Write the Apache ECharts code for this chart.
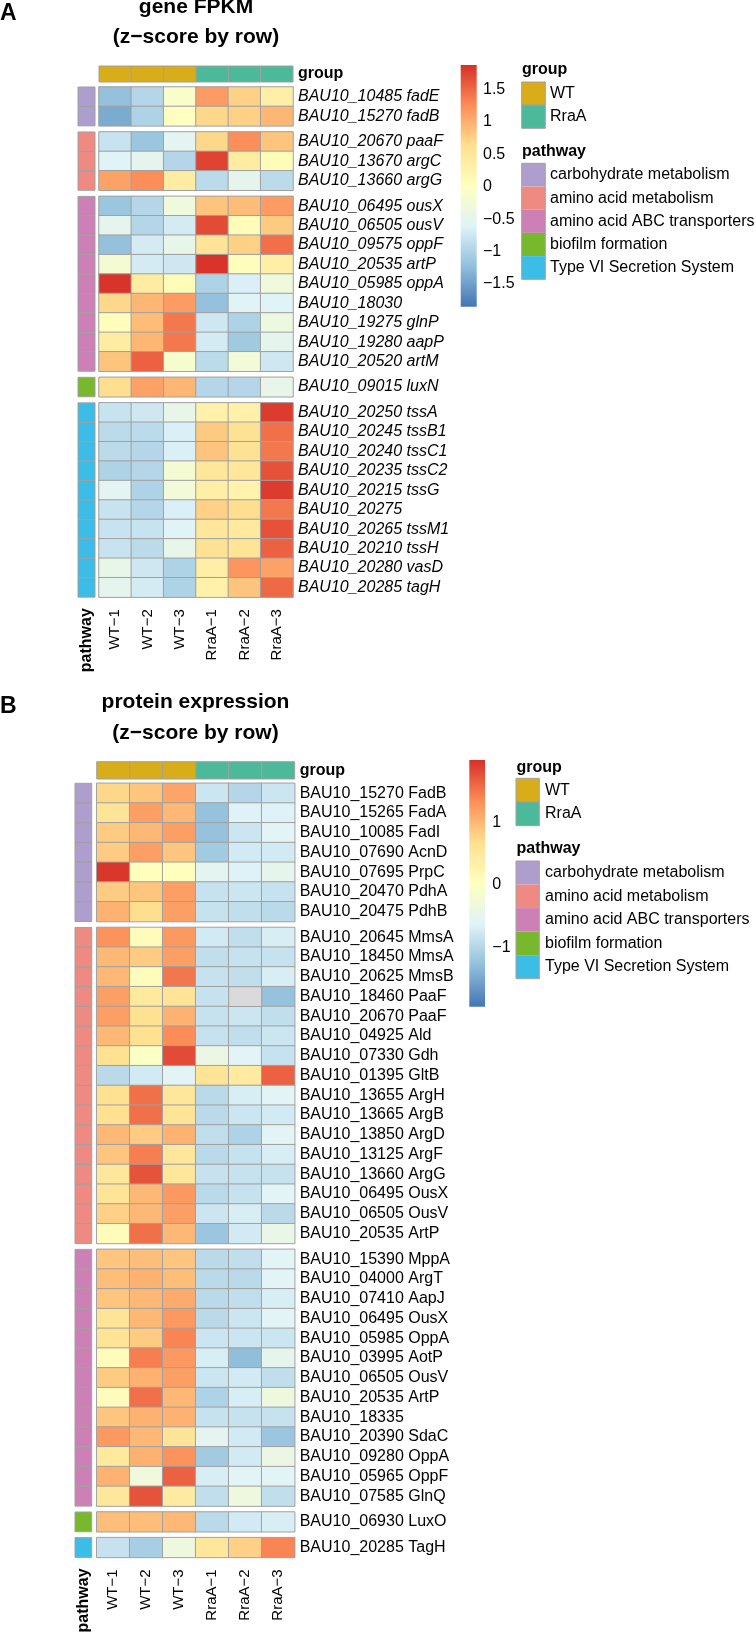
<!DOCTYPE html>
<html><head><meta charset="utf-8">
<script src="https://cdn.jsdelivr.net/npm/echarts@6/dist/echarts.min.js"></script>
<style>html,body{margin:0;padding:0;background:#fff}#c{width:756px;height:1634px}</style>
</head><body><div id="c"></div>
<script>
// ---------------- data ----------------
const columns = ['WT\u22121','WT\u22122','WT\u22123','RraA\u22121','RraA\u22122','RraA\u22123'];
const sampleGroup = ['WT','WT','WT','RraA','RraA','RraA'];
const groupLevels = ['WT','RraA'];
const pathwayLevels = ['carbohydrate metabolism','amino acid metabolism','amino acid ABC transporters','biofilm formation','Type VI Secretion System'];
const colorTicksA = [-1.5,-1,-0.5,0,0.5,1,1.5];
const colorRangeA = [-1.85, 1.88];
const colorTicksB = [-1,0,1];
const colorRangeB = [-1.95, 2.0];

// Panel A: gene FPKM (z-score by row)
const genesA1 = ['BAU10_10485 fadE','BAU10_15270 fadB'];
const zA1 = [[-1.2,-0.95,-0.1,1.15,0.75,0.35],[-1.4,-1.0,0.0,0.7,0.75,0.95]];
const genesA2 = ['BAU10_20670 paaF','BAU10_13670 argC','BAU10_13660 argG'];
const zA2 = [[-0.8,-1.15,-0.55,0.7,1.25,0.85],[-0.6,-0.5,-0.95,1.75,0.4,0.1],[1.1,1.25,0.4,-0.9,-0.5,-0.9]];
const genesA3 = ['BAU10_06495 ousX','BAU10_06505 ousV','BAU10_09575 oppF','BAU10_20535 artP','BAU10_05985 oppA','BAU10_18030','BAU10_19275 glnP','BAU10_19280 aapP','BAU10_20520 artM'];
const zA3 = [[-1.15,-0.95,-0.3,0.85,0.9,1.15],[-0.5,-0.95,-0.7,1.7,0.1,0.8],[-1.2,-0.7,-0.45,0.55,0.75,1.45],
  [-0.2,-0.7,-0.75,1.85,0.05,0.35],[1.85,0.4,0.1,-1.0,-0.65,-0.3],[0.7,0.95,1.15,-1.2,-0.6,-0.6],
  [0.05,0.9,1.4,-0.75,-1.0,-0.35],[0.4,0.95,1.4,-0.7,-1.1,-0.5],[0.85,1.55,-0.15,-0.9,-0.25,-0.75]];
const genesA4 = ['BAU10_09015 luxN'];
const zA4 = [[0.65,1.1,0.95,-0.95,-0.95,-0.45]];
const genesA5 = ['BAU10_20250 tssA','BAU10_20245 tssB1','BAU10_20240 tssC1','BAU10_20235 tssC2','BAU10_20215 tssG','BAU10_20275','BAU10_20265 tssM1','BAU10_20210 tssH','BAU10_20280 vasD','BAU10_20285 tagH'];
const zA5 = [[-0.8,-0.75,-0.45,0.3,0.3,1.8],[-0.9,-0.9,-0.65,0.8,0.6,1.45],[-0.9,-0.95,-0.65,0.85,0.6,1.4],
  [-1.0,-0.95,-0.2,0.5,0.5,1.65],[-0.55,-1.0,-0.25,0.35,0.25,1.8],[-0.8,-0.95,-0.65,0.75,0.65,1.4],
  [-0.8,-0.8,-0.6,0.5,0.45,1.65],[-0.8,-0.9,-0.45,0.6,0.55,1.55],[-0.45,-0.75,-1.0,0.35,1.2,1.1],
  [-0.5,-0.7,-1.0,0.3,0.85,1.5]];

// Panel B: protein expression (z-score by row)
const genesB1 = ['BAU10_15270 FadB','BAU10_15265 FadA','BAU10_10085 FadI','BAU10_07690 AcnD','BAU10_07695 PrpC','BAU10_20470 PdhA','BAU10_20475 PdhB'];
const zB1 = [[0.75,0.9,1.15,-0.8,-1.0,-0.8],[0.6,1.2,1.0,-1.25,-0.65,-0.65],[0.85,1.0,1.2,-1.25,-0.8,-0.6],
  [0.85,1.2,0.9,-1.15,-0.75,-0.75],[1.95,0.05,0.05,-0.55,-0.65,-0.5],[0.85,0.9,1.2,-0.85,-0.8,-0.85],
  [1.05,0.7,1.2,-0.85,-0.9,-0.95]];
const genesB2 = ['BAU10_20645 MmsA','BAU10_18450 MmsA','BAU10_20625 MmsB','BAU10_18460 PaaF','BAU10_20670 PaaF','BAU10_04925 Ald','BAU10_07330 Gdh','BAU10_01395 GltB','BAU10_13655 ArgH','BAU10_13665 ArgB','BAU10_13850 ArgD','BAU10_13125 ArgF','BAU10_13660 ArgG','BAU10_06495 OusX','BAU10_06505 OusV','BAU10_20535 ArtP'];
const zB2 = [[1.3,0.1,1.25,-0.75,-0.9,-0.7],[1.0,0.85,1.2,-0.9,-0.85,-0.85],[1.0,0.1,1.5,-0.85,-0.9,-0.7],
  [1.2,0.5,0.6,-0.85,null,-1.25],[1.2,0.65,1.05,-0.85,-0.8,-0.9],[1.0,0.65,1.35,-0.85,-0.9,-0.8],
  [0.65,-0.05,1.8,-0.4,-0.6,-0.85],[-0.95,-0.75,-0.6,0.6,0.45,1.65],[0.65,1.55,0.55,-0.95,-0.7,-0.6],
  [0.65,1.55,0.6,-0.95,-0.8,-0.75],[1.0,0.85,1.05,-0.9,-1.05,-0.6],[0.9,1.45,0.55,-0.95,-0.85,-0.7],
  [0.55,1.75,0.55,-0.85,-0.85,-0.85],[0.6,1.0,1.25,-0.95,-0.85,-0.6],[0.8,1.0,1.2,-0.8,-0.7,-0.95],
  [0.1,1.55,1.0,-1.2,-0.75,-0.45]];
const genesB3 = ['BAU10_15390 MppA','BAU10_04000 ArgT','BAU10_07410 AapJ','BAU10_06495 OusX','BAU10_05985 OppA','BAU10_03995 AotP','BAU10_06505 OusV','BAU10_20535 ArtP','BAU10_18335','BAU10_20390 SdaC','BAU10_09280 OppA','BAU10_05965 OppF','BAU10_07585 GlnQ'];
const zB3 = [[0.9,0.95,0.9,-0.95,-0.9,-0.6],[0.95,1.05,0.95,-0.95,-0.95,-0.6],[0.9,1.0,1.1,-0.95,-0.9,-0.7],
  [0.6,1.0,1.25,-0.95,-0.8,-0.6],[0.6,0.85,1.4,-0.8,-0.8,-0.8],[0.1,1.45,1.25,-0.7,-1.3,-0.5],
  [0.85,1.05,1.2,-0.8,-0.75,-0.9],[0.1,1.55,1.0,-1.05,-0.7,-0.35],[0.9,1.05,1.05,-0.85,-0.85,-0.85],
  [1.25,1.0,0.6,-0.55,-0.75,-1.2],[0.5,1.05,1.3,-1.15,-0.75,-0.4],[1.05,-0.3,1.65,-0.7,-0.6,-0.6],
  [0.55,1.75,0.45,-0.9,-0.35,-0.9]];
const genesB4 = ['BAU10_06930 LuxO'];
const zB4 = [[0.95,0.95,1.0,-0.95,-0.75,-0.7]];
const genesB5 = ['BAU10_20285 TagH'];
const zB5 = [[-0.85,-1.1,-0.35,0.55,0.8,1.4]];

// ---------------- styles ----------------
const FONT = 'Arial, "Liberation Sans", Helvetica, sans-serif';
const PALETTE = ['#4575B4','#91BFDB','#E0F3F8','#FFFFBF','#FEE090','#FC8D59','#D73027'];
const groupColors = ['#D9AD1A','#4DB99B'];
const pathwayColors = ['#AE9ECE','#EF8A82','#CD80B5','#77B82C','#3CBDE8'];
const BORDER = '#A0A0A0';
const NA_COL = '#DADADA';
const LABEL = 16;
const minus = v => String(v).replace('-', '\u2212');

const opt = {animation:false, backgroundColor:'#fff', textStyle:{fontFamily:FONT},
  grid:[], xAxis:[], yAxis:[], series:[], visualMap:[], graphic:[]};

function lab(extra){ return Object.assign({interval:0, fontSize:LABEL, fontFamily:FONT, color:'#000'}, extra); }
function rectRender(colorFn, stroke){
  return function(params, api){
    const c = api.coord([api.value(0), api.value(1)]);
    const s = api.size([1,1]);
    return {type:'rect', shape:{x:c[0]-s[0]/2, y:c[1]-s[1]/2, width:s[0], height:s[1]},
      style:{fill:colorFn(api.value(2)), stroke:stroke||null, lineWidth:stroke?1:0}};
  };
}
function addGrid(g){ opt.grid.push(Object.assign({containLabel:false, outerBoundsMode:'none'}, g)); return opt.grid.length-1; }
const hidden = {show:false};
function txt(x, y, text, size, weight, align){
  opt.graphic.push({type:'text', x:x, y:y, silent:true,
    style:{text:text, fontFamily:FONT, fontSize:size, fontWeight:weight||'normal', fill:'#000',
      textAlign:align||'left', textVerticalAlign:'middle'}});
}

function buildPanel(P){
  txt(0, P.labelY, P.label, 23, 'bold', 'left');
  txt(P.titleX, P.titleY1, P.title, 21, 'bold', 'center');
  txt(P.titleX, P.titleY2, '(z\u2212score by row)', 21, 'bold', 'center');

  const gb = addGrid({left:P.heatX, top:P.barTop, width:P.heatW, height:P.barH});
  opt.xAxis.push({gridIndex:gb, type:'category', data:columns, show:false});
  opt.yAxis.push({gridIndex:gb, type:'category', data:['group'], position:'right',
    axisLine:hidden, axisTick:hidden, splitLine:hidden,
    axisLabel:lab({fontWeight:'bold', margin:5})});
  opt.series.push({type:'custom', xAxisIndex:gb, yAxisIndex:gb, silent:true,
    data: sampleGroup.map((g,i)=>[i,0,groupLevels.indexOf(g)]),
    renderItem: rectRender(v=>groupColors[v], BORDER)});

  const heatIdx = [];
  let top = P.top0;
  P.blocks.forEach((b, bi) => {
    const h = b.genes.length * P.rowH;
    const last = bi === P.blocks.length - 1;
    const pg = addGrid({left:P.pathX, top:top, width:P.pathW, height:h});
    opt.xAxis.push({gridIndex:pg, type:'category', data:['pathway'],
      axisLine:hidden, axisTick:hidden, splitLine:hidden,
      axisLabel:lab({show:last, rotate:90, fontWeight:'bold', margin:P.pathLabelMargin})});
    opt.yAxis.push({gridIndex:pg, type:'category', data:b.genes, inverse:true, show:false});
    opt.series.push({type:'custom', xAxisIndex:pg, yAxisIndex:pg, silent:true,
      data: b.genes.map((g,i)=>[0,i,bi]), renderItem: rectRender(v=>pathwayColors[v], BORDER)});
    const hg = addGrid({left:P.heatX, top:top, width:P.heatW, height:h});
    opt.xAxis.push({gridIndex:hg, type:'category', data:columns,
      axisLine:hidden, axisTick:hidden, splitLine:hidden,
      axisLabel:lab({show:last, rotate:90, fontSize:P.colFont, margin:P.colLabelMargin})});
    opt.yAxis.push({gridIndex:hg, type:'category', data:b.genes, inverse:true, position:'right',
      axisLine:hidden, axisTick:hidden, splitLine:hidden,
      axisLabel:lab({fontStyle:P.italic?'italic':'normal', margin:5})});
    const data = [], na = [];
    b.z.forEach((row, yi) => row.forEach((v, xi) => { if (v === null) na.push([xi, yi, 0]); else data.push([xi, yi, v]); }));
    opt.series.push({type:'heatmap', xAxisIndex:hg, yAxisIndex:hg, data:data, silent:true,
      itemStyle:{borderColor:BORDER, borderWidth:1}, emphasis:{disabled:true}});
    heatIdx.push(opt.series.length - 1);
    if (na.length) opt.series.push({type:'custom', xAxisIndex:hg, yAxisIndex:hg, silent:true, z:3,
      data:na, renderItem: rectRender(()=>NA_COL, BORDER)});
    top += h + P.gap;
  });

  opt.visualMap.push({type:'continuous', show:false, min:P.range[0], max:P.range[1], dimension:2,
    seriesIndex:heatIdx, inRange:{color:PALETTE}});

  const cg = addGrid({left:P.cbar.x, top:P.cbar.y, width:P.cbar.w, height:P.cbar.h});
  opt.xAxis.push({gridIndex:cg, type:'category', data:[''], show:false});
  opt.yAxis.push({gridIndex:cg, type:'value', min:P.range[0], max:P.range[1], position:'right',
    axisLine:hidden, axisTick:hidden, splitLine:hidden,
    axisLabel:lab({customValues:P.ticks, formatter:minus, margin:P.cbar.margin})});
  const stops = PALETTE.slice().reverse().map((c,i,a)=>({offset:i/(a.length-1), color:c}));
  opt.series.push({type:'custom', xAxisIndex:cg, yAxisIndex:cg, silent:true,
    data:[[0, P.range[0], P.range[1]]],
    renderItem:function(params, api){
      const pTop = api.coord([0, api.value(2)]);
      const pBot = api.coord([0, api.value(1)]);
      const w = api.size([1,0])[0];
      return {type:'rect', shape:{x:pTop[0]-w/2, y:pTop[1], width:w, height:pBot[1]-pTop[1]},
        style:{fill:new echarts.graphic.LinearGradient(0,0,0,1,stops)}};
    }});

  const L = P.legend;
  txt(L.headX, L.groupHeadY, 'group', 16, 'bold');
  txt(L.headX, L.pathHeadY, 'pathway', 16, 'bold');
  const lg = addGrid({left:L.x, top:L.groupTop, width:L.sw, height:L.gsh*groupLevels.length});
  opt.xAxis.push({gridIndex:lg, type:'category', data:[''], show:false});
  opt.yAxis.push({gridIndex:lg, type:'category', data:groupLevels, inverse:true, position:'right',
    axisLine:hidden, axisTick:hidden, splitLine:hidden, axisLabel:lab({margin:L.labelGap})});
  opt.series.push({type:'custom', xAxisIndex:lg, yAxisIndex:lg, silent:true,
    data: groupLevels.map((g,i)=>[0,i,i]), renderItem: rectRender(v=>groupColors[v], BORDER)});
  const lp = addGrid({left:L.x, top:L.pathTop, width:L.sw, height:L.psh*pathwayLevels.length,
    show:true, borderColor:BORDER, borderWidth:1, backgroundColor:'transparent', z:5});
  opt.xAxis.push({gridIndex:lp, type:'category', data:[''], show:false});
  opt.yAxis.push({gridIndex:lp, type:'category', data:pathwayLevels, inverse:true, position:'right',
    axisLine:hidden, axisTick:hidden, splitLine:hidden, axisLabel:lab({margin:L.labelGap})});
  opt.series.push({type:'custom', xAxisIndex:lp, yAxisIndex:lp, silent:true,
    data: pathwayLevels.map((g,i)=>[0,i,i]), renderItem: rectRender(v=>pathwayColors[v], null)});
}

buildPanel({
  label:'A', labelY:13.7, title:'gene FPKM', titleX:196, titleY1:7.7, titleY2:37.7,
  heatX:99, heatW:194, pathX:78, pathW:17, top0:87, rowH:19.43, gap:6.1, barTop:66, barH:16,
  italic:true, colFont:15, colLabelMargin:12, pathLabelMargin:11,
  blocks:[{genes:genesA1,z:zA1},{genes:genesA2,z:zA2},{genes:genesA3,z:zA3},{genes:genesA4,z:zA4},{genes:genesA5,z:zA5}],
  range:colorRangeA, ticks:colorTicksA,
  cbar:{x:460.7, y:65, w:16, h:241.7, margin:6.3},
  legend:{x:521.7, sw:23.6, gsh:23.15, psh:23.2, headX:522, groupHeadY:69.8, groupTop:82, pathHeadY:151.2, pathTop:163.3, labelGap:4.7}
});
buildPanel({
  label:'B', labelY:707, title:'protein expression', titleX:195.5, titleY1:702.7, titleY2:733.4,
  heatX:96.7, heatW:198, pathX:75, pathW:16.7, top0:783.3, rowH:19.75, gap:5.9, barTop:761.7, barH:17.3,
  italic:false, colFont:15, colLabelMargin:12, pathLabelMargin:11,
  blocks:[{genes:genesB1,z:zB1},{genes:genesB2,z:zB2},{genes:genesB3,z:zB3},{genes:genesB4,z:zB4},{genes:genesB5,z:zB5}],
  range:colorRangeB, ticks:colorTicksB,
  cbar:{x:469.3, y:760, w:15.7, h:246.7, margin:7.3},
  legend:{x:516, sw:23.3, gsh:23.7, psh:23.54, headX:516.5, groupHeadY:767.2, groupTop:778.3, pathHeadY:848.5, pathTop:861, labelGap:5.7}
});

const chart = echarts.init(document.getElementById('c'), null, {renderer:'canvas'});
chart.setOption(opt);
</script>
</body></html>
